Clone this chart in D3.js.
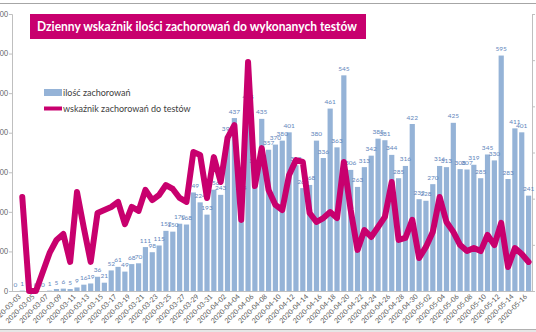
<!DOCTYPE html>
<html><head><meta charset="utf-8">
<script src="https://cdn.jsdelivr.net/npm/d3@7"></script>
<style>html,body{margin:0;padding:0;background:#fff;overflow:hidden}svg{display:block}</style>
</head><body>
<script>
const dates = ["2020-03-03","2020-03-04","2020-03-05","2020-03-06","2020-03-07","2020-03-08","2020-03-09","2020-03-10","2020-03-11","2020-03-12",
"2020-03-13","2020-03-14","2020-03-15","2020-03-16","2020-03-17","2020-03-18","2020-03-19","2020-03-20","2020-03-21","2020-03-22",
"2020-03-23","2020-03-24","2020-03-25","2020-03-26","2020-03-27","2020-03-28","2020-03-29","2020-03-30","2020-03-31","2020-04-01",
"2020-04-02","2020-04-03","2020-04-04","2020-04-05","2020-04-06","2020-04-07","2020-04-08","2020-04-09","2020-04-10","2020-04-11",
"2020-04-12","2020-04-13","2020-04-14","2020-04-15","2020-04-16","2020-04-17","2020-04-18","2020-04-19","2020-04-20","2020-04-21",
"2020-04-22","2020-04-23","2020-04-24","2020-04-25","2020-04-26","2020-04-27","2020-04-28","2020-04-29","2020-04-30","2020-05-01",
"2020-05-02","2020-05-03","2020-05-04","2020-05-05","2020-05-06","2020-05-07","2020-05-08","2020-05-09","2020-05-10","2020-05-11",
"2020-05-12","2020-05-13","2020-05-14","2020-05-15","2020-05-16","2020-05-17"];
const cases = [0,1,0,0,0,1,5,6,5,9,
16,19,36,21,52,61,49,68,70,111,
98,115,152,150,170,168,249,224,193,256,
243,392,437,244,475,311,435,357,370,380,
401,318,260,268,380,336,461,363,545,306,
263,313,342,385,381,344,285,316,422,232,
228,270,316,313,425,308,307,319,285,345,
330,595,283,411,401,241];
// percentage of positive tests
const ratio = [null,4.07,0,0,0.82,1.65,2.21,2.47,1.26,4.29,
2.73,1.26,3.38,3.51,3.64,3.86,2.90,3.64,3.47,4.38,
3.94,4.16,4.59,4.42,4.03,3.86,6.02,5.89,4.03,5.80,
4.72,6.63,7.19,3.08,9.92,4.55,6.19,4.38,3.73,3.51,
5.03,5.67,5.59,3.38,2.99,3.16,3.42,3.16,5.59,3.51,
1.78,2.64,2.34,2.77,3.21,4.72,2.21,2.30,3.08,1.43,
1.91,2.56,4.07,2.99,2.56,1.99,1.73,1.86,1.73,2.43,
1.99,2.95,1.04,1.86,1.60,1.26];
const leftTicks = [0,100,200,300,400,500,600,700];
const rightTicks = [0,2,4,6,8,10,12];
const title = "Dzienny wskaźnik ilości zachorowań do wykonanych testów";
const seriesNames = ["ilość zachorowań","wskaźnik zachorowań do testów"];

const W = 536, H = 332;
const svg = d3.select("body").append("svg").attr("width", W).attr("height", H);
const font = "Lato, 'Open Sans', sans-serif";

// frame
svg.append("rect").attr("x",0).attr("y",329).attr("width",W).attr("height",3).attr("fill","#e6e6e6");
svg.append("line").attr("x1",0).attr("x2",W).attr("y1",3.5).attr("y2",3.5).attr("stroke","#a6a6a6");
svg.append("line").attr("x1",0).attr("x2",W).attr("y1",329.5).attr("y2",329.5).attr("stroke","#b0b0b0");

const pLeft = 12, pRight = 532, pTop = 14, pBottom = 291;
const x = d3.scaleBand().domain(dates).range([pLeft, pRight]).paddingInner(0.24).paddingOuter(0.12);
const y = d3.scaleLinear().domain([0,700]).range([pBottom, pTop]);
const y2 = d3.scaleLinear().domain([0,12]).range([pBottom, pTop]);

// bars
svg.append("g").selectAll("rect").data(cases).join("rect")
  .attr("x",(d,i)=>x(dates[i])).attr("width",x.bandwidth())
  .attr("y",d=>y(d)).attr("height",d=>pBottom-y(d))
  .attr("fill","#95b3d7");

// axes
const axL = svg.append("g").attr("transform",`translate(${pLeft},0)`)
  .call(d3.axisLeft(y).tickValues(leftTicks).tickSize(3).tickPadding(1).tickFormat(d3.format("d")));
axL.select(".domain").attr("stroke","#bfbfbf");
axL.selectAll(".tick line").attr("stroke","#bfbfbf");
axL.selectAll("text").attr("font-family",font).attr("font-size",7).attr("fill","#595959");

const axR = svg.append("g").attr("transform",`translate(${pRight},0)`)
  .call(d3.axisRight(y2).tickValues(rightTicks).tickSize(3).tickFormat(""));
axR.select(".domain").attr("stroke","#bfbfbf");
axR.selectAll(".tick line").attr("stroke","#bfbfbf");

svg.append("line").attr("x1",pLeft).attr("x2",pRight).attr("y1",pBottom+0.5).attr("y2",pBottom+0.5).attr("stroke","#bfbfbf");

// x labels
const xl = svg.append("g");
dates.forEach((d,i)=>{
  if(i%2!==0) return;
  const cx = x(d)+x.bandwidth()/2;
  xl.append("text").attr("transform",`translate(${cx+6},${pBottom+6}) rotate(-45)`)
    .attr("text-anchor","end").attr("font-family",font).attr("font-size",7).attr("fill","#595959").text(d);
});

// data labels
const lab = svg.append("g");
cases.forEach((v,i)=>{
  const cx = x(dates[i])+x.bandwidth()/2;
  lab.append("text").attr("x",cx).attr("y",y(v)-4.5).attr("text-anchor","middle")
    .attr("font-family",font).attr("font-size",6.5).attr("fill","#6285bb").text(v);
});

// line
const line = d3.line().defined(d=>d!=null)
  .x((d,i)=>x(dates[i])+x.bandwidth()/2).y(d=>y2(d));
svg.append("path").datum(ratio).attr("d",line).attr("fill","none")
  .attr("stroke","#c8006e").attr("stroke-width",6).attr("stroke-linejoin","round").attr("stroke-linecap","round");

// title
svg.append("rect").attr("x",30).attr("y",14).attr("width",336).attr("height",25).attr("fill","#c8006e");
svg.append("text").attr("x",37).attr("y",31).attr("font-family",font).attr("font-weight","bold")
  .attr("font-size",14).attr("fill","#fff").attr("textLength",320).attr("lengthAdjust","spacingAndGlyphs").text(title);

// legend
const lg = svg.append("g");
lg.append("rect").attr("x",44).attr("y",89).attr("width",18).attr("height",7).attr("fill","#95b3d7");
lg.append("text").attr("x",63).attr("y",95.5).attr("font-family",font).attr("font-size",9).attr("fill","#404040").text(seriesNames[0]);
lg.append("line").attr("x1",44).attr("x2",62).attr("y1",108.5).attr("y2",108.5).attr("stroke","#c8006e").attr("stroke-width",4);
lg.append("text").attr("x",63).attr("y",111.5).attr("font-family",font).attr("font-size",9).attr("fill","#404040").text(seriesNames[1]);
</script>
</body></html>
